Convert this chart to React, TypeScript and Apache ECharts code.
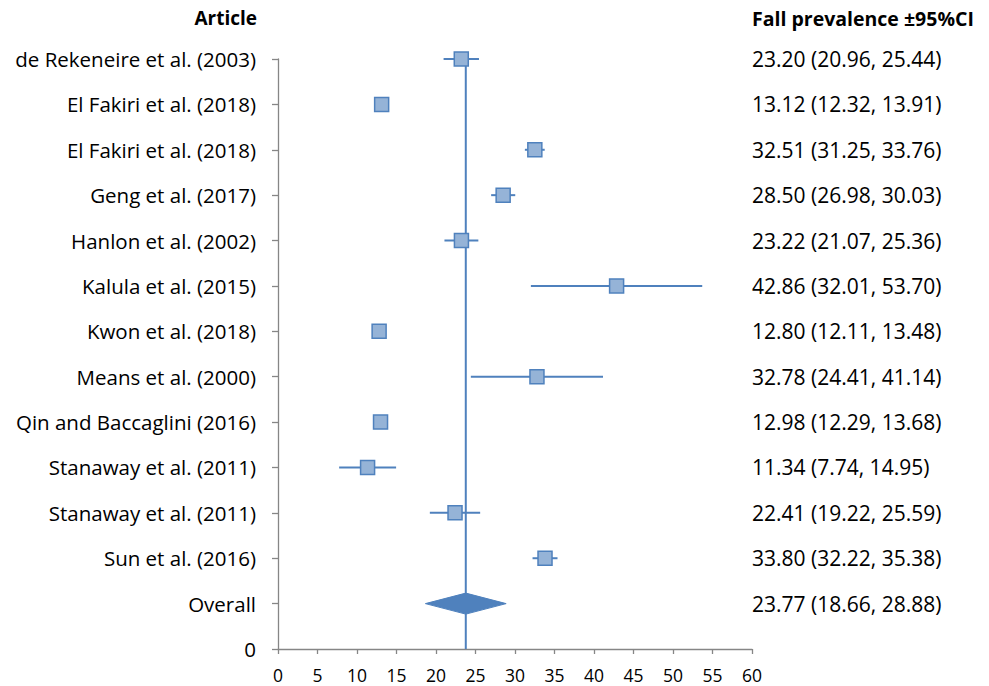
import React, { useEffect, useRef } from "react";
import * as echarts from "echarts";

const articles = [
  "de Rekeneire et al. (2003)",
  "El Fakiri et al. (2018)",
  "El Fakiri et al. (2018)",
  "Geng et al. (2017)",
  "Hanlon et al. (2002)",
  "Kalula et al. (2015)",
  "Kwon et al. (2018)",
  "Means et al. (2000)",
  "Qin and Baccaglini (2016)",
  "Stanaway et al. (2011)",
  "Stanaway et al. (2011)",
  "Sun et al. (2016)",
];
const prevalence = [23.2, 13.12, 32.51, 28.5, 23.22, 42.86, 12.8, 32.78, 12.98, 11.34, 22.41, 33.8];
const lower = [20.96, 12.32, 31.25, 26.98, 21.07, 32.01, 12.11, 24.41, 12.29, 7.74, 19.22, 32.22];
const upper = [25.44, 13.91, 33.76, 30.03, 25.36, 53.7, 13.48, 41.14, 13.68, 14.95, 25.59, 35.38];
const overallLabel = "Overall";
const overallEst = 23.77;
const overallLower = 18.66;
const overallUpper = 28.88;
const xTicks = { min: 0, max: 60, interval: 5 };

const FONT = "Open Sans";
const BLUE = "#4F81BD";
const FILL = "#95B3D7";
const AXIS = "#868686";

const nRows = articles.length + 1; // 13
const rowY = (i: number) => nRows - i; // first article at top
const fmt = (v: number) => v.toFixed(2);

export default function App() {
  const ref = useRef<HTMLDivElement>(null);
  useEffect(() => {
    document.body.style.margin = "0";
    const chart = echarts.init(ref.current!, null, { renderer: "svg" });
    const leftLabels: Record<number, string> = { 0: "0", 1: overallLabel };
    const rightLabels: Record<number, string> = {
      1: `${fmt(overallEst)} (${fmt(overallLower)}, ${fmt(overallUpper)})`,
    };
    articles.forEach((a, i) => {
      leftLabels[rowY(i)] = a;
      rightLabels[rowY(i)] = `${fmt(prevalence[i])} (${fmt(lower[i])}, ${fmt(upper[i])})`;
    });
    const ciData = articles.map((_, i) => [lower[i], upper[i], rowY(i)]);
    const ptData = articles.map((_, i) => [prevalence[i], rowY(i)]);

    chart.setOption({
      animation: false,
      textStyle: { fontFamily: FONT },
      grid: { left: 278, right: 237, top: 59, bottom: 37 },
      xAxis: {
        type: "value",
        min: xTicks.min,
        max: xTicks.max,
        interval: xTicks.interval,
        axisLine: { show: true, lineStyle: { color: AXIS, width: 1.3 } },
        axisTick: { show: true, length: 5, lineStyle: { color: AXIS, width: 1.3 } },
        splitLine: { show: false },
        axisLabel: { color: "#000", fontSize: 17.5, fontFamily: FONT, margin: 17 },
      },
      yAxis: [
        {
          type: "value",
          min: 0,
          max: nRows,
          interval: 1,
          position: "left",
          axisLine: { show: true, lineStyle: { color: AXIS, width: 1.3 } },
          axisTick: { show: true, length: 6, lineStyle: { color: AXIS, width: 1.3 } },
          splitLine: { show: false },
          axisLabel: {
            color: "#000",
            fontSize: 20.5,
            fontFamily: FONT,
            margin: 22,
            formatter: (v: number) => leftLabels[v] ?? "",
          },
        },
        {
          type: "value",
          min: 0,
          max: nRows,
          interval: 1,
          position: "right",
          axisLine: { show: false },
          axisTick: { show: false },
          splitLine: { show: false },
          axisLabel: {
            color: "#000",
            fontSize: 21,
            fontFamily: FONT,
            margin: 0,
            align: "left",
            formatter: (v: number) => rightLabels[v] ?? "",
          },
        },
      ],
      graphic: [
        {
          type: "text",
          right: 989 - 257,
          top: 8,
          style: { text: "Article", font: `bold 19px ${FONT}`, fill: "#000" },
        },
        {
          type: "text",
          left: 752,
          top: 8,
          style: { text: "Fall prevalence ±95%CI", font: `bold 19.5px ${FONT}`, fill: "#000" },
        },
      ],
      series: [
        {
          type: "line",
          data: [
            [overallEst, 0],
            [overallEst, nRows],
          ],
          symbol: "none",
          lineStyle: { color: BLUE, width: 2 },
          z: 1,
        },
        {
          type: "custom",
          data: [[overallLower, overallUpper, 1, overallEst]],
          renderItem: (_p: any, api: any) => {
            const y = api.value(2);
            const l = api.coord([api.value(0), y]);
            const r = api.coord([api.value(1), y]);
            const c = api.coord([api.value(3), y]);
            const h = 10.5;
            return {
              type: "polygon",
              shape: { points: [l, [c[0], c[1] - h], r, [c[0], c[1] + h]] },
              style: { fill: BLUE, stroke: BLUE, lineWidth: 1 },
            };
          },
          z: 2,
        },
        {
          type: "custom",
          data: ciData,
          renderItem: (_p: any, api: any) => {
            const y = api.value(2);
            const a = api.coord([api.value(0), y]);
            const b = api.coord([api.value(1), y]);
            return {
              type: "line",
              shape: { x1: a[0], y1: a[1], x2: b[0], y2: b[1] },
              style: { stroke: BLUE, lineWidth: 2 },
            };
          },
          z: 3,
        },
        {
          type: "scatter",
          data: ptData,
          symbol: "rect",
          symbolSize: 14,
          itemStyle: { color: FILL, borderColor: BLUE, borderWidth: 1.5, opacity: 1 },
          z: 4,
        },
      ],
    });
    return () => chart.dispose();
  }, []);
  return <div ref={ref} style={{ width: 989, height: 686 }} />;
}
